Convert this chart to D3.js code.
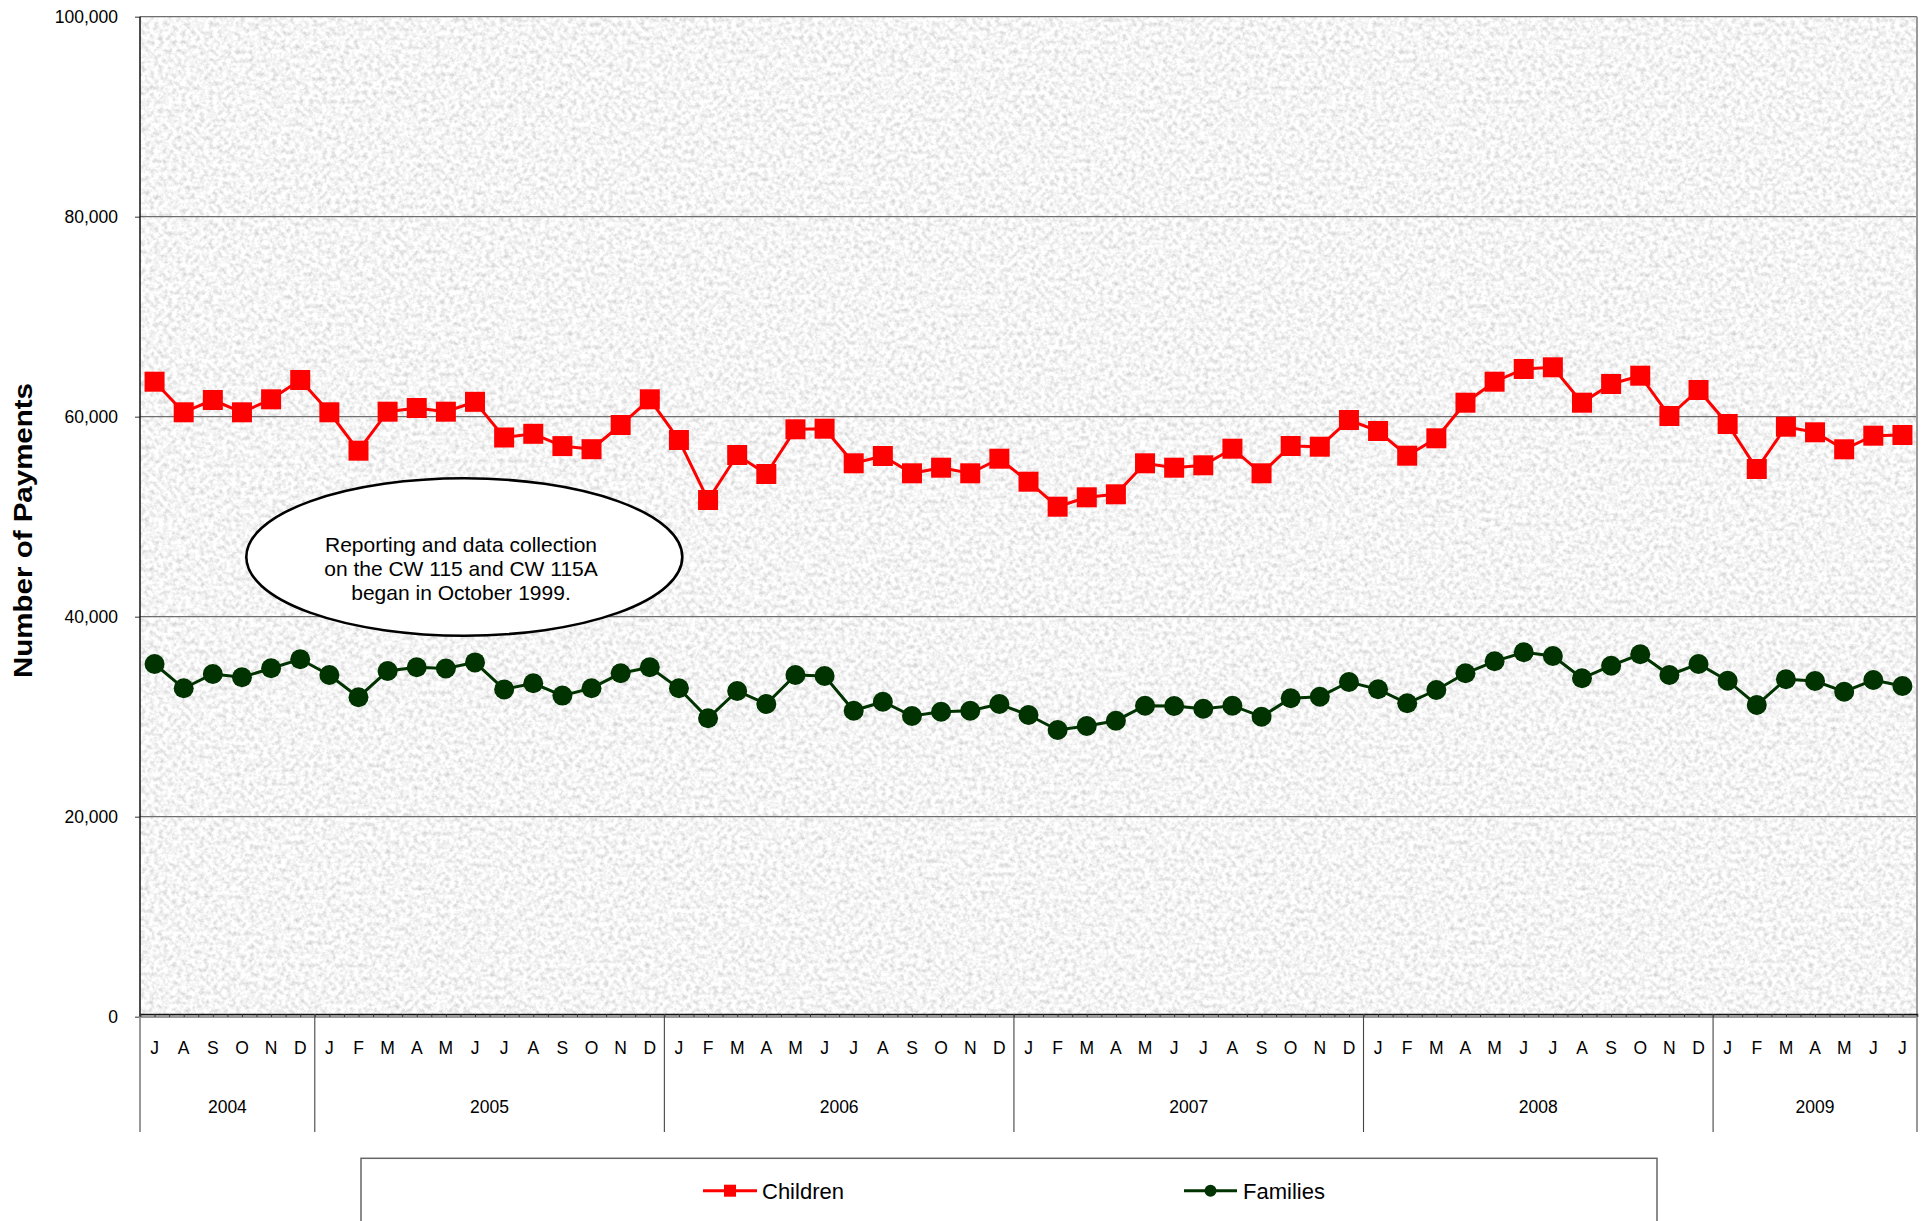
<!DOCTYPE html>
<html>
<head>
<meta charset="utf-8">
<script src="https://cdn.jsdelivr.net/npm/d3@7"></script>
<style>
  html, body { margin: 0; padding: 0; background: #fff; }
  svg { display: block; font-family: "Liberation Sans", Arial, sans-serif; }
</style>
</head>
<body>
<svg id="chart" width="1927" height="1221"></svg>
<script>
// ---- Data ----
const years = ["2004", "2005", "2006", "2007", "2008", "2009"];
const monthsPerYear = [6, 12, 12, 12, 12, 7];
const monthLabels = [
  "J","A","S","O","N","D",
  "J","F","M","A","M","J","J","A","S","O","N","D",
  "J","F","M","A","M","J","J","A","S","O","N","D",
  "J","F","M","A","M","J","J","A","S","O","N","D",
  "J","F","M","A","M","J","J","A","S","O","N","D",
  "J","F","M","A","M","J","J"
];
const children = [
  63500, 60440, 61670, 60440, 61740, 63670,
  60440, 56600, 60500, 60870, 60500, 61490, 57920, 58290, 57060, 56750, 59170, 61740,
  57670, 51670, 56170, 54270, 58740, 58800, 55340, 56070, 54340, 54900, 54340, 55800,
  53500, 51000, 51940, 52240, 55340, 54900, 55140, 56800, 54340, 57070, 57000, 59670,
  58570, 56100, 57840, 61400, 63500, 64770, 64940, 61400, 63270, 64100, 60070, 62670,
  59270, 54770, 59000, 58440, 56740, 58100, 58170
];
const families = [
  35270, 32840, 34270, 33940, 34840, 35740,
  34170, 31950, 34570, 34940, 34820, 35430, 32730, 33340, 32110, 32850, 34340, 34940,
  32840, 29840, 32570, 31270, 34170, 34070, 30600, 31500, 30070, 30500, 30600, 31270,
  30170, 28670, 29070, 29600, 31100, 31070, 30800, 31100, 30000, 31840, 32000, 33470,
  32740, 31340, 32670, 34340, 35540, 36440, 36070, 33840, 35100, 36240, 34170, 35270,
  33600, 31170, 33740, 33570, 32500, 33670, 33070
];
const yTicks = [0, 20000, 40000, 60000, 80000, 100000];
const seriesNames = ["Children", "Families"];
const annotationLines = [
  "Reporting and data collection",
  "on the CW 115 and CW 115A",
  "began in October 1999."
];

(function () {
// ---- Layout ----
const pL = 140, pR = 1917, pT = 16.7, pB = 1016.7;
const redC = "#ff0000", greenC = "#003300";

const svg = d3.select("#chart");
const defs = svg.append("defs");
const f = defs.append("filter").attr("id", "noise")
  .attr("x", 0).attr("y", 0).attr("width", "100%").attr("height", "100%");
f.append("feTurbulence").attr("type", "fractalNoise").attr("baseFrequency", "0.22")
  .attr("numOctaves", 3).attr("seed", 7).attr("result", "t");
f.append("feColorMatrix").attr("in", "t").attr("type", "matrix")
  .attr("values", "0.7 0 0 0 0.56  0.7 0 0 0 0.56  0.7 0 0 0 0.56  0 0 0 0 1");

const x = d3.scaleBand().domain(d3.range(monthLabels.length)).range([pL, pR]).padding(0);
const xl = d3.scaleLinear().domain([0, monthLabels.length]).range([pL, pR]);
const y = d3.scaleLinear().domain([0, 100000]).range([pB, pT]);
const cx = i => x(i) + x.bandwidth() / 2;

// Plot background
svg.append("rect").attr("x", pL).attr("y", pT)
  .attr("width", pR - pL).attr("height", pB - pT)
  .attr("fill", "#e6e6e6").attr("filter", "url(#noise)");

// Gridlines
svg.append("g").selectAll("line").data(yTicks.filter(d => d > 0)).join("line")
  .attr("x1", pL).attr("x2", pR)
  .attr("y1", d => y(d)).attr("y2", d => y(d))
  .attr("stroke", "#6f6f6f").attr("stroke-width", 1.2);

// Right border
svg.append("line").attr("x1", pR).attr("x2", pR).attr("y1", pT).attr("y2", 1132)
  .attr("stroke", "#999").attr("stroke-width", 2);

// Y axis
const yAxis = svg.append("g").attr("transform", `translate(${pL},0)`)
  .call(d3.axisLeft(y).tickValues(yTicks).tickSize(5).tickPadding(17).tickFormat(d3.format(",")));
yAxis.select(".domain").remove();
yAxis.selectAll(".tick line").attr("stroke", "#555").attr("stroke-width", 1.2);
yAxis.selectAll("text").attr("font-size", 17.5).attr("fill", "#000")
  .attr("font-family", "Liberation Sans, Arial, sans-serif");
svg.append("line").attr("x1", pL).attr("x2", pL).attr("y1", pT).attr("y2", pB)
  .attr("stroke", "#111").attr("stroke-width", 1.5);

// Zero line + category axis
svg.append("line").attr("x1", pL).attr("x2", pR).attr("y1", pB).attr("y2", pB)
  .attr("stroke", "#999").attr("stroke-width", 2.5);
const tickAxis = svg.append("g").attr("transform", `translate(0,${pB - 2.7})`)
  .call(d3.axisBottom(xl).tickValues(d3.range(0, monthLabels.length + 0.01, 0.5)).tickSize(3).tickFormat(""));
tickAxis.select(".domain").attr("stroke", "#111").attr("stroke-width", 1.5);
tickAxis.selectAll(".tick line").attr("stroke", "#333").attr("stroke-width", 1);

// Month labels
const mAxis = svg.append("g").attr("transform", `translate(0,1014)`)
  .call(d3.axisBottom(x).tickSize(0).tickFormat(i => monthLabels[i]));
mAxis.select(".domain").remove();
mAxis.selectAll("text").attr("y", 34).attr("dy", "0.35em").attr("font-size", 17.5)
  .attr("fill", "#000").attr("font-family", "Liberation Sans, Arial, sans-serif");

// Year separators and labels
const bounds = [0];
monthsPerYear.forEach(n => bounds.push(bounds[bounds.length - 1] + n));
const isEdge = i => i === 0 || i === bounds.length - 1;
svg.append("g").selectAll("line").data(bounds).join("line")
  .attr("x1", d => xl(d)).attr("x2", d => xl(d))
  .attr("y1", (d, i) => isEdge(i) ? pB : 1014)
  .attr("y2", 1132)
  .attr("stroke", (d, i) => isEdge(i) ? "#999" : "#444")
  .attr("stroke-width", (d, i) => isEdge(i) ? 2 : 1.1);
svg.append("g").selectAll("text").data(years).join("text")
  .attr("x", (d, i) => xl(bounds[i] + monthsPerYear[i] / 2))
  .attr("y", 1107).attr("dy", "0.35em")
  .attr("text-anchor", "middle").attr("font-size", 17.5).attr("fill", "#000")
  .text(d => d);

// Y axis title
svg.append("text")
  .attr("transform", "translate(32,530.5) rotate(-90)")
  .attr("text-anchor", "middle").attr("font-size", 25).attr("font-weight", "bold")
  .attr("textLength", 295).attr("lengthAdjust", "spacingAndGlyphs")
  .attr("fill", "#000").text("Number of Payments");

// Annotation ellipse
svg.append("ellipse").attr("cx", 464.3).attr("cy", 557).attr("rx", 218).attr("ry", 78.7)
  .attr("fill", "#fff").attr("stroke", "#000").attr("stroke-width", 2.6);
svg.append("g").selectAll("text").data(annotationLines).join("text")
  .attr("x", 461).attr("y", (d, i) => 551.7 + i * 24.2)
  .attr("text-anchor", "middle").attr("font-size", 21).attr("fill", "#000")
  .text(d => d);

// Lines
const line = d3.line().x((d, i) => cx(i)).y(d => y(d));
svg.append("path").datum(children).attr("d", line)
  .attr("fill", "none").attr("stroke", redC).attr("stroke-width", 3);
svg.append("path").datum(families).attr("d", line)
  .attr("fill", "none").attr("stroke", greenC).attr("stroke-width", 3);

// Markers
svg.append("g").selectAll("rect").data(children).join("rect")
  .attr("x", (d, i) => cx(i) - 10).attr("y", d => y(d) - 10)
  .attr("width", 20).attr("height", 20).attr("fill", redC);
svg.append("g").selectAll("circle").data(families).join("circle")
  .attr("cx", (d, i) => cx(i)).attr("cy", d => y(d)).attr("r", 10)
  .attr("fill", greenC);

// Legend
svg.append("rect").attr("x", 361).attr("y", 1158.3).attr("width", 1296).attr("height", 120)
  .attr("fill", "#fff").attr("stroke", "#666").attr("stroke-width", 1.5);
const lg = svg.append("g");
lg.append("line").attr("x1", 703).attr("x2", 757).attr("y1", 1190.7).attr("y2", 1190.7)
  .attr("stroke", redC).attr("stroke-width", 3);
lg.append("rect").attr("x", 724).attr("y", 1184.7).attr("width", 12).attr("height", 12).attr("fill", redC);
lg.append("text").attr("x", 762).attr("y", 1199.3).attr("font-size", 22).attr("fill", "#000").text(seriesNames[0]);
lg.append("line").attr("x1", 1184).attr("x2", 1237).attr("y1", 1190.7).attr("y2", 1190.7)
  .attr("stroke", greenC).attr("stroke-width", 3);
lg.append("circle").attr("cx", 1210.5).attr("cy", 1190.7).attr("r", 6).attr("fill", greenC);
lg.append("text").attr("x", 1243).attr("y", 1199.3).attr("font-size", 22).attr("fill", "#000").text(seriesNames[1]);
})();
</script>
</body>
</html>
